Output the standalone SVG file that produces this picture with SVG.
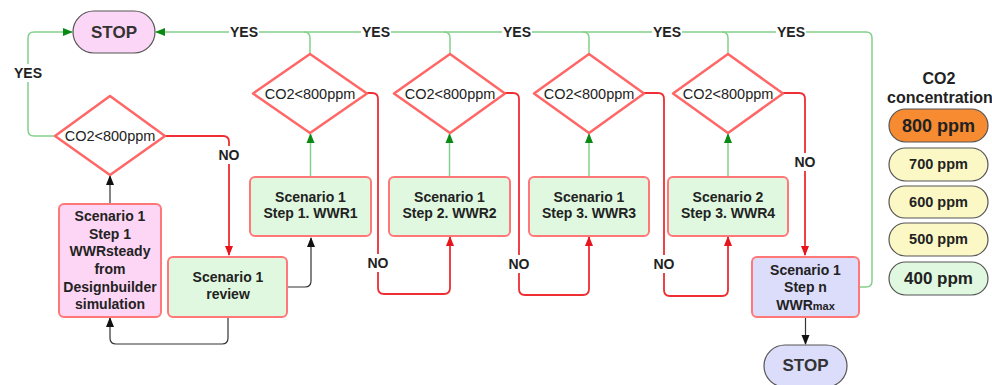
<svg xmlns="http://www.w3.org/2000/svg" width="992" height="385" viewBox="0 0 992 385">
<style>
text{font-family:"Liberation Sans",Arial,sans-serif;fill:#222;text-anchor:middle}
.b{font-weight:bold;font-size:14px}
.d{font-size:14.5px}
.lbl{font-weight:bold;font-size:14px}
.stop{font-weight:bold;font-size:17px;fill:#333}
.box{stroke:#f77;stroke-width:2}
.green{fill:#e0f8e0}
.pink{fill:#fdd6f6}
.lav{fill:#dcdcfb}
.dia{fill:#fff;stroke:#f66;stroke-width:2.5;stroke-linejoin:round}
.cg{fill:none;stroke:#84d08c;stroke-width:1.5}
.cr{fill:none;stroke:#ee2e33;stroke-width:1.8}
.ck{fill:none;stroke:#333;stroke-width:1.2}
.pill{stroke:#555;stroke-width:1.2}
.bg{fill:#fff}
</style>
<defs>
<marker id="ag" markerWidth="10" markerHeight="10" refX="9" refY="5" orient="auto" markerUnits="userSpaceOnUse"><path d="M0,1 L10,5 L0,9 Z" fill="#0a8a14"/></marker>
<marker id="ar" markerWidth="10" markerHeight="10" refX="9" refY="5" orient="auto" markerUnits="userSpaceOnUse"><path d="M0,1 L10,5 L0,9 Z" fill="#e8141b"/></marker>
<marker id="ak" markerWidth="10" markerHeight="10" refX="9" refY="5" orient="auto" markerUnits="userSpaceOnUse"><path d="M0,1 L10,5 L0,9 Z" fill="#111"/></marker>
</defs>

<g id="connectors">
<path class="ck" d="M110,204 V176" marker-end="url(#ak)"/>
<path class="cg" d="M55,136 H34 Q28,136 28,130 V38 Q28,32 34,32 H72" marker-end="url(#ag)"/>
<path class="cr" d="M165,136 H223 Q229,136 229,142 V255" marker-end="url(#ar)"/>
<path class="ck" d="M228,317 V338 Q228,344 222,344 H116 Q110,344 110,338 V318" marker-end="url(#ak)"/>
<path class="ck" d="M287,287 H305 Q311,287 311,281 V238" marker-end="url(#ak)"/>
<path class="cg" d="M310.5,177 V134" marker-end="url(#ag)"/>
<path class="cg" d="M310,54 V38 Q310,32 304,32"/>
<path class="cr" d="M367,93 H372 Q378,93 378,99 V288 Q378,294 384,294 H444 Q450,294 450,288 V237" marker-end="url(#ar)"/>
<path class="cg" d="M449.5,177 V134" marker-end="url(#ag)"/>
<path class="cg" d="M450,54 V38 Q450,32 444,32"/>
<path class="cr" d="M505,93 H513 Q519,93 519,99 V289 Q519,295 525,295 H583 Q589,295 589,289 V237" marker-end="url(#ar)"/>
<path class="cg" d="M589,177 V134" marker-end="url(#ag)"/>
<path class="cg" d="M589,54 V38 Q589,32 583,32"/>
<path class="cr" d="M644,93 H658 Q664,93 664,99 V290 Q664,296 670,296 H722 Q728,296 728,290 V237" marker-end="url(#ar)"/>
<path class="cg" d="M728,177 V134" marker-end="url(#ag)"/>
<path class="cg" d="M728,54 V38 Q728,32 722,32"/>
<path class="cr" d="M783,93 H799 Q805,93 805,99 V255" marker-end="url(#ar)"/>
<path class="cg" d="M859,287 H866 Q872,287 872,281 V38 Q872,32 866,32 H156" marker-end="url(#ag)"/>
<path class="ck" d="M805.5,317 V344" marker-end="url(#ak)"/>
<rect class="bg" x="14" y="64" width="28" height="18"/>
<text class="lbl" x="28" y="78">YES</text>
<rect class="bg" x="229" y="24" width="30" height="16"/>
<text class="lbl" x="244" y="37">YES</text>
<rect class="bg" x="361" y="24" width="30" height="16"/>
<text class="lbl" x="376" y="37">YES</text>
<rect class="bg" x="502" y="24" width="30" height="16"/>
<text class="lbl" x="517" y="37">YES</text>
<rect class="bg" x="652" y="24" width="30" height="16"/>
<text class="lbl" x="667" y="37">YES</text>
<rect class="bg" x="776" y="24" width="30" height="16"/>
<text class="lbl" x="791" y="37">YES</text>
<rect class="bg" x="217" y="146" width="24" height="18"/>
<text class="lbl" x="229" y="160">NO</text>
<rect class="bg" x="366" y="254" width="24" height="18"/>
<text class="lbl" x="378" y="268">NO</text>
<rect class="bg" x="507" y="255" width="24" height="18"/>
<text class="lbl" x="519" y="269">NO</text>
<rect class="bg" x="652" y="255" width="24" height="18"/>
<text class="lbl" x="664" y="269">NO</text>
<rect class="bg" x="793" y="153" width="24" height="18"/>
<text class="lbl" x="805" y="167">NO</text>
</g>

<g id="stop1">
<rect x="73" y="11" width="82" height="42" rx="21" fill="#fcd6f6" stroke="#555" stroke-width="1.2"/>
<text class="stop" x="114" y="38">STOP</text>
</g>

<g id="decision0">
<polygon class="dia" points="110,96 165,136 110,175 55,136"/>
<text class="d" x="110" y="141">CO2&lt;800ppm</text>
</g>
<g id="decision1">
<polygon class="dia" points="310,54 367,93.5 310,133 253,93.5"/>
<text class="d" x="310" y="99">CO2&lt;800ppm</text>
</g>
<g id="decision2">
<polygon class="dia" points="450,54 505,93.5 450,133 394,93.5"/>
<text class="d" x="450" y="99">CO2&lt;800ppm</text>
</g>
<g id="decision3">
<polygon class="dia" points="589,54 644,93.5 589,133 534,93.5"/>
<text class="d" x="589" y="99">CO2&lt;800ppm</text>
</g>
<g id="decision4">
<polygon class="dia" points="728,54 783,93.5 728,133 673,93.5"/>
<text class="d" x="728" y="99">CO2&lt;800ppm</text>
</g>

<g id="step1steady">
<rect class="box pink" x="59" y="204" width="102" height="113" rx="5"/>
<text class="b" x="110" y="221">Scenario 1</text>
<text class="b" x="110" y="239">Step 1</text>
<text class="b" x="110" y="256">WWRsteady</text>
<text class="b" x="110" y="274">from</text>
<text class="b" x="110" y="292">Designbuilder</text>
<text class="b" x="110" y="309">simulation</text>
</g>

<g id="review">
<rect class="box green" x="168" y="257" width="119" height="60" rx="5"/>
<text class="b" x="228" y="282">Scenario 1</text>
<text class="b" x="228" y="299">review</text>
</g>

<g id="wwr1">
<rect class="box green" x="250" y="177" width="121" height="59" rx="5"/>
<text class="b" x="310.5" y="202">Scenario 1</text>
<text class="b" x="310.5" y="218">Step 1. WWR1</text>
</g>
<g id="wwr2">
<rect class="box green" x="389" y="177" width="121" height="59" rx="5"/>
<text class="b" x="449.5" y="202">Scenario 1</text>
<text class="b" x="449.5" y="218">Step 2. WWR2</text>
</g>
<g id="wwr3">
<rect class="box green" x="529" y="177" width="120" height="59" rx="5"/>
<text class="b" x="589" y="202">Scenario 1</text>
<text class="b" x="589" y="218">Step 3. WWR3</text>
</g>
<g id="wwr4">
<rect class="box green" x="668" y="177" width="120" height="59" rx="5"/>
<text class="b" x="728" y="202">Scenario 2</text>
<text class="b" x="728" y="218">Step 3. WWR4</text>
</g>

<g id="stepn">
<rect class="box lav" x="752" y="257" width="107" height="60" rx="5"/>
<text class="b" x="805.5" y="275">Scenario 1</text>
<text class="b" x="805.5" y="292">Step n</text>
<text class="b" x="805.5" y="310">WWR<tspan font-size="11px">max</tspan></text>
</g>

<g id="stop2">
<rect x="764" y="345" width="83" height="42" rx="21" fill="#dcdcfb" stroke="#555" stroke-width="1.2"/>
<text class="stop" x="805.5" y="371">STOP</text>
</g>

<g id="legend">
<text x="939" y="84" style="font-weight:bold;font-size:16px">CO2</text>
<text x="940" y="103" style="font-weight:bold;font-size:16px">concentration</text>
<rect class="pill" x="889" y="109" width="99" height="33" rx="16.5" fill="#f68b32"/>
<text x="938.5" y="132" style="font-weight:bold;font-size:18px">800 ppm</text>
<rect class="pill" x="889" y="148" width="99" height="33" rx="16.5" fill="#fbf8c6"/>
<text x="938.5" y="169" style="font-weight:bold;font-size:14.5px">700 ppm</text>
<rect class="pill" x="889" y="186" width="99" height="32" rx="16" fill="#fbf8c6"/>
<text x="938.5" y="207" style="font-weight:bold;font-size:14.5px">600 ppm</text>
<rect class="pill" x="889" y="223" width="99" height="33" rx="16.5" fill="#fbf8c6"/>
<text x="938.5" y="244" style="font-weight:bold;font-size:14.5px">500 ppm</text>
<rect class="pill" x="889" y="262" width="99" height="33" rx="16.5" fill="#e0f8e0"/>
<text x="938.5" y="284" style="font-weight:bold;font-size:17px">400 ppm</text>
</g>
</svg>
